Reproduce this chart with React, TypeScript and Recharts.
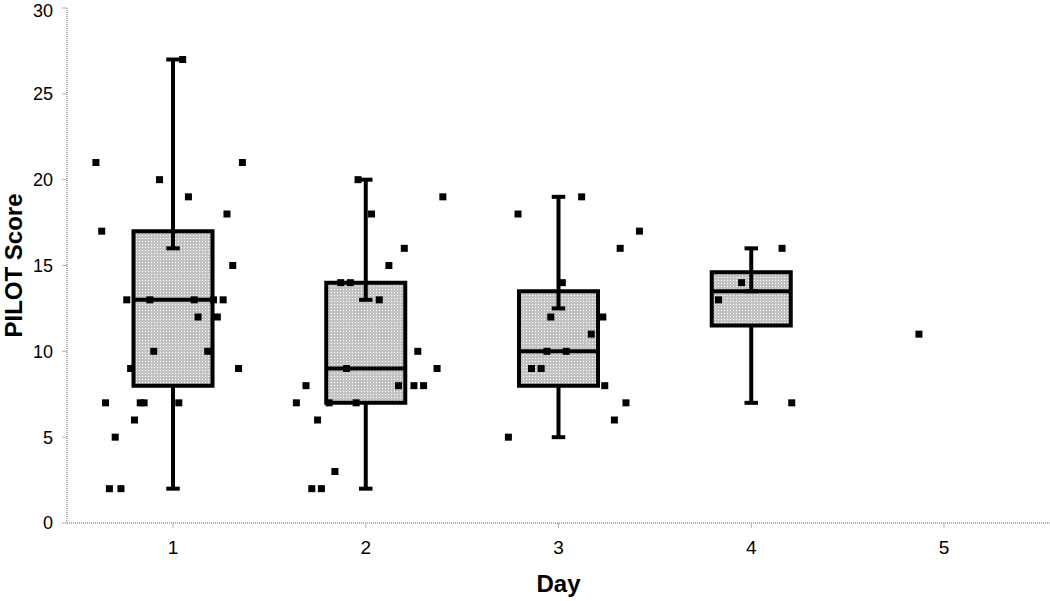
import {
  ComposedChart,
  Scatter,
  XAxis,
  YAxis,
  ReferenceArea,
  ReferenceLine,
} from "recharts";

// axis ticks
const dayTicks = [1, 2, 3, 4, 5];
const scoreTicks = [0, 5, 10, 15, 20, 25, 30];

// box plot summary per day (day 5 has a single observation, no box)
const boxDays = [1, 2, 3, 4];
const whiskerLow = [2, 2, 5, 7];
const quartileLow = [8, 7, 8, 11.5];
const medians = [13, 9, 10, 13.5];
const quartileHigh = [17, 14, 13.5, 14.6];
const innerCaps = [16, 13, 12.5, 13.5];
const whiskerHigh = [27, 20, 19, 16];

// jittered individual scores: [day position, score]
const day1Points = [
  [0.6, 21], [1.36, 21], [0.93, 20], [1.08, 19], [1.28, 18], [0.63, 17],
  [1.31, 15], [0.76, 13], [0.88, 13], [1.11, 13], [1.21, 13], [1.26, 13],
  [1.13, 12], [1.23, 12], [0.9, 10], [1.18, 10], [0.78, 9], [1.34, 9],
  [0.65, 7], [0.83, 7], [0.85, 7], [1.03, 7], [0.8, 6], [0.7, 5],
  [0.67, 2], [0.73, 2], [1.05, 27],
];
const day2Points = [
  [1.96, 20], [2.03, 18], [2.4, 19], [2.2, 16], [2.12, 15], [1.87, 14],
  [1.92, 14], [2.07, 13], [2.27, 10], [2.37, 9], [1.9, 9], [2.17, 8],
  [2.25, 8], [2.3, 8], [1.69, 8], [1.64, 7], [1.81, 7], [1.95, 7],
  [1.75, 6], [1.84, 3], [1.72, 2], [1.77, 2],
];
const day3Points = [
  [3.12, 19], [2.79, 18], [3.42, 17], [3.32, 16], [3.02, 14], [2.96, 12],
  [3.23, 12], [3.17, 11], [2.94, 10], [3.04, 10], [2.86, 9], [2.91, 9],
  [3.24, 8], [3.35, 7], [3.29, 6], [2.74, 5],
];
const day4Points = [[4.16, 16], [3.95, 14], [3.83, 13], [4.21, 7]];
const day5Points = [[4.87, 11]];

const scatterData = [...day1Points, ...day2Points, ...day3Points, ...day4Points, ...day5Points].map(
  ([x, y]) => ({ x, y })
);

const BOX_HALF = 0.205;
const CAP_HALF = 0.035;
const FONT = "'Liberation Sans', Arial, sans-serif";
const axisGray = "#b0b0b0";

const SquareDot = (props: any) => (
  <rect x={props.cx - 3.5} y={props.cy - 3.5} width={7} height={7} fill="#000" />
);

export default function App() {
  const boxes = boxDays.flatMap((d, i) => [
    <ReferenceLine
      key={`lw${i}`}
      segment={[{ x: d, y: whiskerLow[i] }, { x: d, y: quartileLow[i] }]}
      stroke="#000"
      strokeWidth={4}
    />,
    <ReferenceArea
      key={`box${i}`}
      x1={d - BOX_HALF}
      x2={d + BOX_HALF}
      y1={quartileLow[i]}
      y2={quartileHigh[i]}
      fill="url(#dotFill)"
      fillOpacity={1}
      stroke="#000"
      strokeWidth={4}
    />,
    <ReferenceLine
      key={`med${i}`}
      segment={[{ x: d - BOX_HALF, y: medians[i] }, { x: d + BOX_HALF, y: medians[i] }]}
      stroke="#000"
      strokeWidth={4}
    />,
    <ReferenceLine
      key={`uw${i}`}
      segment={[{ x: d, y: innerCaps[i] }, { x: d, y: whiskerHigh[i] }]}
      stroke="#000"
      strokeWidth={4}
    />,
    <ReferenceLine
      key={`lc${i}`}
      segment={[{ x: d - CAP_HALF, y: whiskerLow[i] }, { x: d + CAP_HALF, y: whiskerLow[i] }]}
      stroke="#000"
      strokeWidth={4}
    />,
    <ReferenceLine
      key={`ic${i}`}
      segment={[{ x: d - CAP_HALF, y: innerCaps[i] }, { x: d + CAP_HALF, y: innerCaps[i] }]}
      stroke="#000"
      strokeWidth={4}
    />,
    <ReferenceLine
      key={`hc${i}`}
      segment={[{ x: d - CAP_HALF, y: whiskerHigh[i] }, { x: d + CAP_HALF, y: whiskerHigh[i] }]}
      stroke="#000"
      strokeWidth={4}
    />,
  ]);

  return (
    <div style={{ position: "fixed", left: 0, top: 0, background: "#fff" }}>
      <ComposedChart
        width={1050}
        height={601}
        data={scatterData}
        margin={{ top: 8, right: 0, left: 1, bottom: 0 }}
      >
        <defs>
          <pattern id="dotFill" width={3} height={3} patternUnits="userSpaceOnUse">
            <rect width={3} height={3} fill="#c2c2c2" />
            <rect x={1} y={1} width={1} height={1} fill="#ffffff" />
          </pattern>
        </defs>
        <XAxis
          type="number"
          dataKey="x"
          domain={[0.45, 5.55]}
          ticks={dayTicks}
          allowDataOverflow
          height={78}
          axisLine={{ stroke: axisGray, strokeWidth: 2, strokeDasharray: "1 1" }}
          tickLine={{ stroke: axisGray }}
          tickSize={5}
          tickMargin={13}
          tick={{ fontSize: 19, fill: "#000", fontFamily: FONT }}
          label={{
            value: "Day",
            position: "insideBottom",
            offset: 9,
            style: { fontSize: 24, fontWeight: "bold", fill: "#000", fontFamily: FONT },
          }}
        />
        <YAxis
          type="number"
          dataKey="y"
          domain={[0, 30]}
          ticks={scoreTicks}
          width={66}
          axisLine={{ stroke: axisGray, strokeWidth: 2, strokeDasharray: "1 1" }}
          tickLine={{ stroke: axisGray }}
          tickSize={5}
          tickMargin={9}
          tick={{ fontSize: 18, fill: "#000", fontFamily: FONT }}
          label={{
            value: "PILOT Score",
            angle: -90,
            position: "insideLeft",
            offset: 12,
            style: { textAnchor: "middle", fontSize: 24, fontWeight: "bold", fill: "#000", fontFamily: FONT },
          }}
        />
        {boxes}
        <Scatter dataKey="y" fill="#000" shape={SquareDot} isAnimationActive={false} />
      </ComposedChart>
    </div>
  );
}
